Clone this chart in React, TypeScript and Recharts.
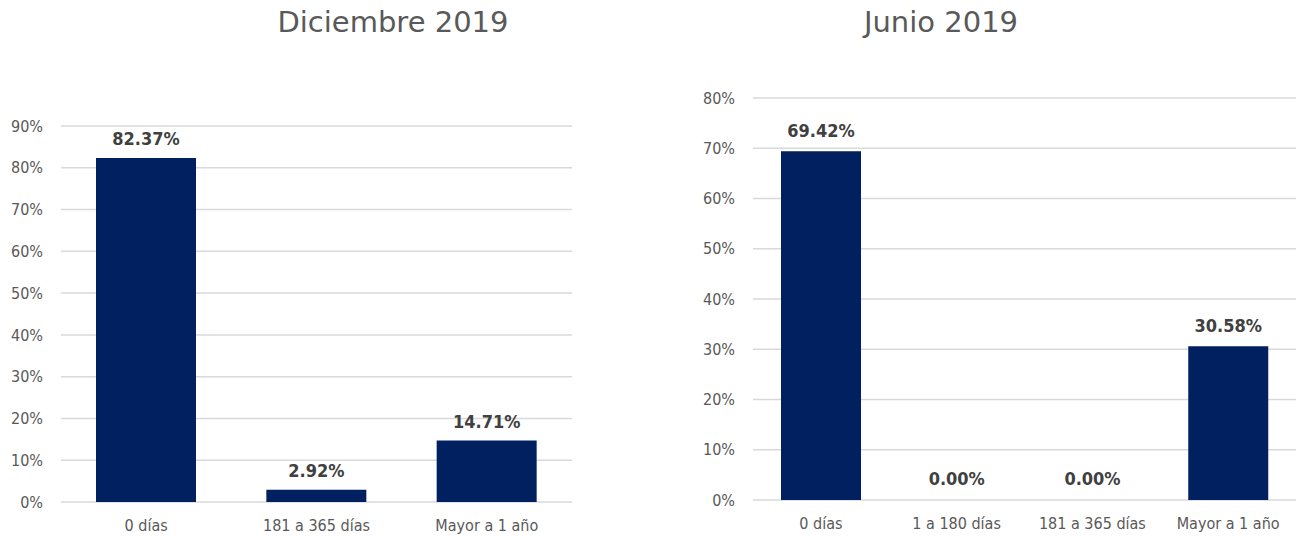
import { BarChart, Bar, XAxis, YAxis, CartesianGrid, LabelList, Cell } from 'recharts';

const decCategories = ['0 días', '181 a 365 días', 'Mayor a 1 año'];
const decValues = [82.37, 2.92, 14.71];
const decTicks = [0, 10, 20, 30, 40, 50, 60, 70, 80, 90];

const junCategories = ['0 días', '1 a 180 días', '181 a 365 días', 'Mayor a 1 año'];
const junValues = [69.42, 0, 0, 30.58];
const junTicks = [0, 10, 20, 30, 40, 50, 60, 70, 80];

const BAR = '#002060';
const GRID = '#d9d9d9';
const TEXT = '#595959';
const FONT = '"Liberation Sans Narrow", "DejaVu Sans Condensed", "Open Sans", sans-serif';

const tickStyle = { fill: TEXT, fontSize: 16, fontFamily: FONT };
const labelStyle = { fill: '#404040', fontSize: 18, fontWeight: 700, fontFamily: FONT };

const pct = (v: unknown) => `${v}%`;
const pct2 = (v: unknown) => `${Number(v).toFixed(2)}%`;

function Title({ text, left, width }: { text: string; left: number; width: number }) {
  return (
    <div
      style={{
        position: 'absolute',
        left,
        top: 5,
        width,
        textAlign: 'center',
        fontFamily: '"DejaVu Sans", Verdana, sans-serif',
        fontSize: 29,
        color: TEXT,
      }}
    >
      {text}
    </div>
  );
}

export default function App() {
  const dec = decCategories.map((name, i) => ({ name, value: decValues[i] }));
  const jun = junCategories.map((name, i) => ({ name, value: junValues[i] }));

  return (
    <div style={{ position: 'absolute', left: 0, top: 0, width: 1299, height: 537, background: '#fff' }}>
      <Title text="Diciembre 2019" left={230} width={326} />
      <Title text="Junio 2019" left={778} width={326} />

      <div style={{ position: 'absolute', left: 0, top: 0 }}>
        <BarChart width={600} height={537} data={dec} margin={{ top: 126, right: 28, bottom: 0, left: 0 }}>
          <CartesianGrid vertical={false} stroke={GRID} strokeWidth={1.5} />
          <XAxis
            dataKey="name"
            axisLine={false}
            tickLine={false}
            tick={tickStyle}
            tickMargin={12}
            height={35}
            interval={0}
          />
          <YAxis
            domain={[0, 90]}
            ticks={decTicks}
            tickFormatter={pct}
            axisLine={false}
            tickLine={false}
            tick={tickStyle}
            tickSize={0}
            tickMargin={18}
            width={61}
            interval={0}
          />
          <Bar dataKey="value" fill={BAR} barSize={100} isAnimationActive={false}>
            <LabelList dataKey="value" position="top" offset={13} formatter={pct2} style={labelStyle} />
          </Bar>
        </BarChart>
      </div>

      <div style={{ position: 'absolute', left: 680, top: 0 }}>
        <BarChart width={619} height={537} data={jun} margin={{ top: 98, right: 3, bottom: 0, left: 0 }}>
          <CartesianGrid vertical={false} stroke={GRID} strokeWidth={1.5} />
          <XAxis
            dataKey="name"
            axisLine={false}
            tickLine={false}
            tick={tickStyle}
            tickMargin={12}
            height={37}
            interval={0}
          />
          <YAxis
            domain={[0, 80]}
            ticks={junTicks}
            tickFormatter={pct}
            axisLine={false}
            tickLine={false}
            tick={tickStyle}
            tickSize={0}
            tickMargin={18}
            width={73}
            interval={0}
          />
          {/* zero bars keep a 1px invisible rect so their labels still show */}
          <Bar dataKey="value" fill={BAR} barSize={80} minPointSize={1} isAnimationActive={false}>
            {jun.map((d) => (
              <Cell key={d.name} fill={d.value === 0 ? 'transparent' : BAR} />
            ))}
            <LabelList dataKey="value" position="top" offset={14} formatter={pct2} style={labelStyle} />
          </Bar>
        </BarChart>
      </div>
    </div>
  );
}
